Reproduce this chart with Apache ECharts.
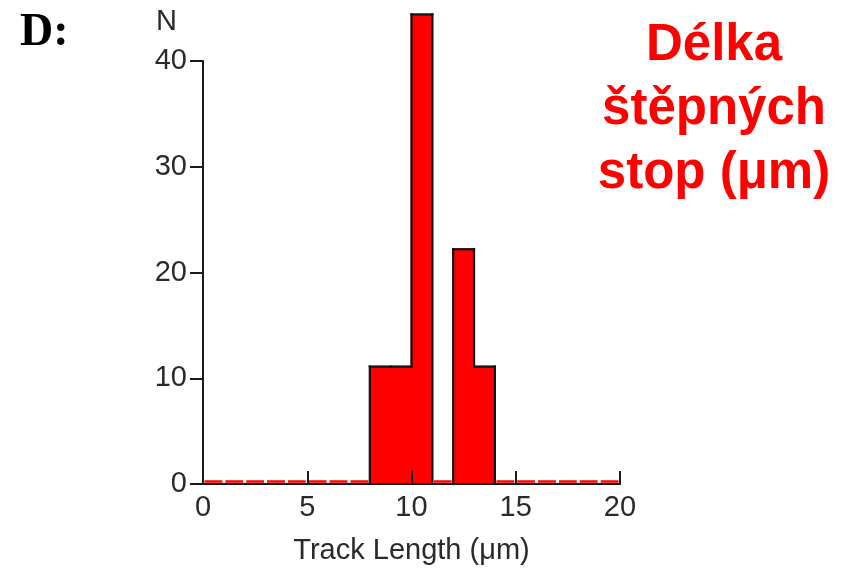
<!DOCTYPE html>
<html>
<head>
<meta charset="utf-8">
<script src="https://cdn.jsdelivr.net/npm/echarts@6/dist/echarts.min.js"></script>
<style>html,body{margin:0;padding:0;background:#fff;}#c{width:845px;height:568px;}</style>
</head>
<body>
<div id="c"></div>
<script>
// Histogram bins (left edge, µm) and values (N)
const binLeft = [0,1,2,3,4,5,6,7,8,9,10,11,12,13,14,15,16,17,18,19];
const binValue = [0,0,0,0,0,0,0,0,11.1,11.1,44.4,0,22.2,11.1,0,0,0,0,0,0];
const binWidth = 1;
const xTickLabels = [0,5,10,15,20];
const yTickLabels = [0,10,20,30,40];
const panelLabel = 'D:';
const titleText = 'Délka\nštěpných\nstop (μm)';
const xName = 'Track Length (μm)';
const yName = 'N';

const fillData = binLeft.map((x, i) => [x, binValue[i]]);
const outlineData = binLeft.map((x, i) => [x, binValue[i], i > 0 ? binValue[i-1] : 0, i === binLeft.length - 1 ? 1 : 0]);

const chart = echarts.init(document.getElementById('c'));
const axisColor = '#1a1a1a';
const labelFont = { fontFamily: '"Liberation Sans", Arial, sans-serif', fontSize: 29, color: '#2a2a2a' };

chart.setOption({
  animation: false,
  backgroundColor: '#fff',
  grid: { left: 203, right: 225, top: 61, bottom: 84, containLabel: false, outerBoundsMode: 'none' },
  title: {
    text: titleText,
    left: 714, top: 14, padding: 0,
    textAlign: 'center',
    textStyle: { fontFamily: '"Liberation Sans", Arial, sans-serif', fontWeight: 'bold', fontSize: 51, lineHeight: 64, color: '#ff0000' }
  },
  graphic: [
    { type: 'text', left: 20, top: 10, style: { text: panelLabel, font: 'bold 46px "Liberation Serif", "Times New Roman", serif', fill: '#000' } },
    { type: 'text', left: 156, top: 7, style: { text: yName, font: '29px "Liberation Sans", Arial, sans-serif', fill: '#2a2a2a' } }
  ],
  xAxis: {
    type: 'value', min: xTickLabels[0], max: xTickLabels[xTickLabels.length-1], interval: 5, z: 5,
    name: xName, nameLocation: 'middle', nameGap: 52,
    nameTextStyle: labelFont,
    axisLine: { show: true, onZero: false, lineStyle: { color: axisColor, width: 2 } },
    axisTick: { show: true, inside: true, length: 13, lineStyle: { color: axisColor, width: 2 } },
    axisLabel: Object.assign({ margin: 9 }, labelFont),
    splitLine: { show: false }
  },
  yAxis: {
    type: 'value', min: yTickLabels[0], max: yTickLabels[yTickLabels.length-1], interval: 10, z: 5,
    axisLine: { show: true, onZero: false, lineStyle: { color: axisColor, width: 2 } },
    axisTick: { show: true, inside: false, length: 13, lineStyle: { color: axisColor, width: 2 } },
    axisLabel: Object.assign({ margin: 16 }, labelFont),
    splitLine: { show: false }
  },
  series: [
    {
      type: 'custom', z: 1, clip: false,
      data: fillData,
      renderItem: function (params, api) {
        const x0 = api.value(0), v = api.value(1);
        const p0 = api.coord([x0, 0]);
        const p1 = api.coord([x0 + binWidth, v]);
        if (v > 0) {
          return { type: 'rect', shape: { x: p0[0], y: p1[1], width: p1[0] - p0[0], height: p0[1] - p1[1] }, style: { fill: '#ff0000', stroke: '#ff0000', lineWidth: 1.5 } };
        }
        return { type: 'line', shape: { x1: p0[0] + 1.5, y1: p0[1] - 2.5, x2: p1[0] - 1.5, y2: p0[1] - 2.5 }, style: { stroke: '#ff0000', lineWidth: 2.5 } };
      }
    },
    {
      type: 'custom', z: 2, clip: false,
      data: outlineData,
      renderItem: function (params, api) {
        const x0 = api.value(0), v = api.value(1), prev = api.value(2), last = api.value(3);
        const children = [];
        const st = { stroke: '#111', lineWidth: 2.2, lineCap: 'square' };
        const a = api.coord([x0, v]), b = api.coord([x0 + binWidth, v]);
        if (v > 0) children.push({ type: 'line', shape: { x1: a[0], y1: a[1], x2: b[0], y2: b[1] }, style: st });
        if (v !== prev) {
          const c = api.coord([x0, prev]);
          children.push({ type: 'line', shape: { x1: a[0], y1: a[1], x2: c[0], y2: c[1] }, style: st });
        }
        if (last && v > 0) {
          const d = api.coord([x0 + binWidth, 0]);
          children.push({ type: 'line', shape: { x1: b[0], y1: b[1], x2: d[0], y2: d[1] }, style: st });
        }
        return { type: 'group', children: children };
      }
    }
  ]
});
</script>
</body>
</html>
